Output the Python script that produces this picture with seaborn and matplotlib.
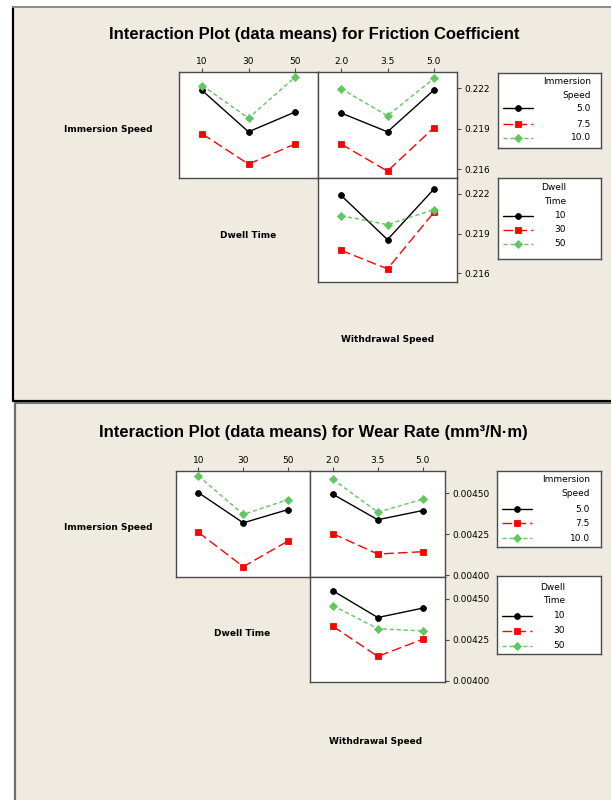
import matplotlib
matplotlib.use("Agg")
import matplotlib.pyplot as plt
from matplotlib.patches import Rectangle
from matplotlib.lines import Line2D
import numpy as np
import pandas as pd
import seaborn as sns

sns.set_style("white")
plt.rcParams["font.family"] = ["DejaVu Sans"]
plt.rcParams["text.color"] = "black"
plt.rcParams["axes.labelcolor"] = "black"

W, H = 611, 800

# factor levels
dwell_levels = ["10", "30", "50"]
withdrawal_levels = ["2.0", "3.5", "5.0"]
immersion_levels = ["5.0", "7.5", "10.0"]

# Friction coefficient means (rows: trace level, columns: x level)
fc_immersion_by_dwell = [
    [0.22182, 0.21876, 0.22022],   # immersion 5.0
    [0.21861, 0.21637, 0.21785],   # immersion 7.5
    [0.22219, 0.21978, 0.22279],   # immersion 10.0
]
fc_immersion_by_withdrawal = [
    [0.22015, 0.21876, 0.22185],
    [0.21785, 0.21585, 0.21906],
    [0.22195, 0.21995, 0.22271],
]
fc_dwell_by_withdrawal = [
    [0.22187, 0.21854, 0.22235],   # dwell 10
    [0.21773, 0.21633, 0.22059],   # dwell 30
    [0.22034, 0.21967, 0.22080],   # dwell 50
]
fc_ticks = [0.216, 0.219, 0.222]

# Wear rate means (mm^3/N.m)
wr_immersion_by_dwell = [
    [0.004504, 0.004320, 0.004401],
    [0.004262, 0.004053, 0.004209],
    [0.004606, 0.004371, 0.004462],
]
wr_immersion_by_withdrawal = [
    [0.004494, 0.004339, 0.004395],
    [0.004254, 0.004130, 0.004144],
    [0.004585, 0.004385, 0.004464],
]
wr_dwell_by_withdrawal = [
    [0.004549, 0.004386, 0.004443],
    [0.004333, 0.004149, 0.004253],
    [0.004459, 0.004318, 0.004304],
]
wr_ticks = [0.00400, 0.00425, 0.00450]

# trace styling shared by every panel
trace_colors = ["#000000", "#FF0000", "#5FC85F"]
trace_markers = ["o", "s", "D"]
trace_dashes = ["-", (0, (7, 3)), (0, (3, 2))]
trace_msizes = [4.2, 4.3, 4.4]

BEIGE = "#EFEBE1"
FRAME = "#4a4a4a"

fig = plt.figure(figsize=(W / 100, H / 100), dpi=100, facecolor="white")


def rect(x0, y0, x1, y1):
    return [x0 / W, 1 - y1 / H, (x1 - x0) / W, (y1 - y0) / H]


def fx(x):
    return x / W


def fy(y):
    return 1 - y / H


def panel_background(x0, y0, x1, y1, left_color, top_color, bottom_color=None):
    fig.add_artist(Rectangle((fx(x0), fy(y1)), fx(x1) - fx(x0), fy(y0) - fy(y1),
                             transform=fig.transFigure, facecolor=BEIGE,
                             edgecolor="none", zorder=-10))
    fig.add_artist(Line2D([fx(x0), fx(x0)], [fy(y0), fy(y1)], transform=fig.transFigure,
                          color=left_color, lw=1.6, zorder=-9))
    fig.add_artist(Line2D([fx(x0), fx(x1)], [fy(y0), fy(y0)], transform=fig.transFigure,
                          color=top_color, lw=1.4, zorder=-9))
    if bottom_color:
        fig.add_artist(Line2D([fx(x0), fx(x1)], [fy(y1), fy(y1)], transform=fig.transFigure,
                              color=bottom_color, lw=1.6, zorder=-9))


def interaction(box, x_levels, hue_levels, values, ylim, yticks, fmt, top, right):
    ax = fig.add_axes(rect(*box))
    rows = [(x, h, v) for h, row in zip(hue_levels, values) for x, v in zip(x_levels, row)]
    df = pd.DataFrame(rows, columns=["level", "trace", "mean"])
    sns.pointplot(data=df, x="level", y="mean", hue="trace", order=x_levels,
                  hue_order=hue_levels, palette=trace_colors, markers=trace_markers,
                  linestyles=trace_dashes, errorbar=None, legend=False, ax=ax,
                  linewidth=1.0)
    for line, ms in zip(ax.lines, trace_msizes):
        line.set_markersize(ms)
        line.set_markeredgewidth(0.6)
    ax.set_xlim(-0.5, len(x_levels) - 0.5)
    ax.set_ylim(*ylim)
    ax.set_xlabel("")
    ax.set_ylabel("")
    ax.set_facecolor("white")
    for s in ax.spines.values():
        s.set_visible(True)
        s.set_color(FRAME)
        s.set_linewidth(1.0)
    ax.tick_params(axis="x", bottom=False, labelbottom=False, top=top, labeltop=top,
                   direction="out", length=3, width=0.8, color=FRAME, pad=1.5,
                   labelsize=6.5, labelcolor="black")
    ax.set_yticks(yticks)
    ax.set_yticklabels([fmt % t for t in yticks])
    ax.tick_params(axis="y", left=False, labelleft=False, right=right, labelright=right,
                   direction="out", length=3, width=0.8, color=FRAME, pad=2,
                   labelsize=6.5, labelcolor="black")
    return ax


def legend_box(box, title_lines, title_ys, labels, entry_ys, text_right):
    x0, y0, x1, y1 = box
    lax = fig.add_axes(rect(*box))
    lax.set_xlim(x0, x1)
    lax.set_ylim(y1, y0)
    lax.set_xticks([])
    lax.set_yticks([])
    lax.set_facecolor("white")
    for s in lax.spines.values():
        s.set_visible(True)
        s.set_color(FRAME)
        s.set_linewidth(1.0)
    for t, ty in zip(title_lines, title_ys):
        lax.text(text_right, ty, t, ha="right", va="center", fontsize=6.5, color="black")
    for i, (lab, ey) in enumerate(zip(labels, entry_ys)):
        lax.plot([x0 + 5, x0 + 20, x0 + 35], [ey] * 3, color=trace_colors[i],
                 ls=trace_dashes[i], lw=1.0, marker=trace_markers[i], markevery=[1],
                 ms=trace_msizes[i], mew=0.6)
        lax.text(text_right, ey, lab, ha="right", va="center", fontsize=6.5, color="black")


def factor_label(x, y, s):
    fig.text(fx(x), fy(y), s, ha="center", va="center", fontsize=6.5,
             fontweight="bold", color="black")


# ---------- Friction coefficient ----------
panel_background(13, 7, 640, 401, "black", "#8a8a8a", "black")
fig.text(fx(314), fy(34), "Interaction Plot (data means) for Friction Coefficient",
         ha="center", va="center", fontsize=12, fontweight="bold", color="black",
         family=["Liberation Sans", "DejaVu Sans"])

fc_lim = (0.21534, 0.22319)
interaction((179, 72, 318, 178), dwell_levels, immersion_levels, fc_immersion_by_dwell,
            fc_lim, fc_ticks, "%.3f", top=True, right=False)
interaction((318, 72, 457, 178), withdrawal_levels, immersion_levels,
            fc_immersion_by_withdrawal, fc_lim, fc_ticks, "%.3f", top=True, right=True)
interaction((318, 178, 457, 282), withdrawal_levels, dwell_levels, fc_dwell_by_withdrawal,
            fc_lim, fc_ticks, "%.3f", top=False, right=True)

factor_label(108, 129, "Immersion Speed")
factor_label(248, 235, "Dwell Time")
factor_label(388, 339, "Withdrawal Speed")

legend_box((498, 73, 601, 148), ["Immersion", "Speed"], [81.7, 95.7],
           immersion_levels, [108.3, 124.3, 137.7], 591)
legend_box((498, 178, 601, 259), ["Dwell", "Time"], [187.3, 201.7],
           dwell_levels, [215.7, 229.7, 243.7], 566)

# ---------- Wear rate ----------
panel_background(15, 403, 640, 820, "#6e6e6e", "#6e6e6e")
fig.text(fx(313), fy(432), "Interaction Plot (data means) for Wear Rate (mm³/N·m)",
         ha="center", va="center", fontsize=12, fontweight="bold", color="black",
         family=["Liberation Sans", "DejaVu Sans"])

wr_lim = (0.003993, 0.004636)
interaction((176, 471, 310.5, 576.5), dwell_levels, immersion_levels, wr_immersion_by_dwell,
            wr_lim, wr_ticks, "%.5f", top=True, right=False)
interaction((310.5, 471, 445, 576.5), withdrawal_levels, immersion_levels,
            wr_immersion_by_withdrawal, wr_lim, wr_ticks, "%.5f", top=True, right=True)
interaction((310.5, 576.5, 445, 682), withdrawal_levels, dwell_levels, wr_dwell_by_withdrawal,
            wr_lim, wr_ticks, "%.5f", top=False, right=True)

factor_label(108, 527, "Immersion Speed")
factor_label(242, 634, "Dwell Time")
factor_label(376, 741, "Withdrawal Speed")

legend_box((497, 471, 601, 547), ["Immersion", "Speed"], [480, 493.3],
           immersion_levels, [509, 523.3, 538.3], 590)
legend_box((497, 576, 601, 654), ["Dwell", "Time"], [587.3, 601],
           dwell_levels, [615.7, 631, 645.7], 565)

fig.savefig("out.png", dpi=100, facecolor="white")
